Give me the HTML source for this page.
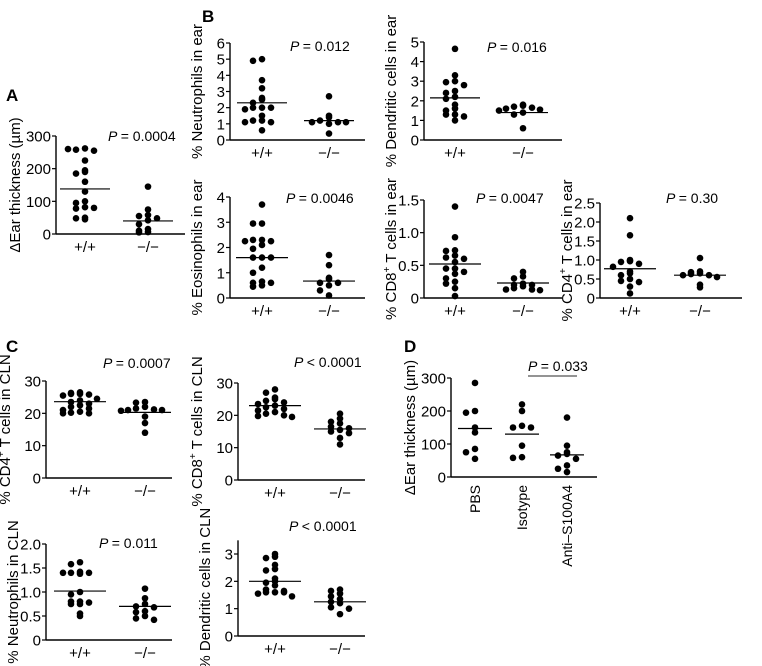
<!DOCTYPE html>
<html><head><meta charset="utf-8">
<style>
html,body{margin:0;padding:0;background:#fff;}
svg{display:block;font-family:"Liberation Sans","DejaVu Sans",sans-serif;}
</style></head>
<body>
<svg id="fig" width="762" height="666" viewBox="0 0 762 666" xmlns="http://www.w3.org/2000/svg">
<text x="6" y="101" font-size="17" font-weight="bold">A</text>
<text x="202" y="22" font-size="17" font-weight="bold">B</text>
<text x="6" y="352" font-size="17" font-weight="bold">C</text>
<text x="404" y="352" font-size="17" font-weight="bold">D</text>
</svg>
<script>
// ---- data ----
const genoCats = ["+/+", "−/−"];
const dCats = ["PBS", "Isotype", "Anti–S100A4"];

const earThickWT = [262,258,255,260,225,195,190,185,160,130,100,95,82,78,80,50,45,48];
const earThickKO = [145,75,58,55,48,42,30,15,6,5,10];
const earThickMed = [138,40];

const neutEarWT = [5.0,4.9,3.7,3.2,2.6,2.5,2.3,2.0,2.0,2.0,1.9,1.5,1.2,1.2,1.1,1.1,0.6];
const neutEarKO = [2.7,1.5,1.4,1.2,1.1,1.1,1.1,1.0,0.4];
const neutEarMed = [2.3,1.2];

const dcEarWT = [4.65,3.3,3.0,2.95,2.8,2.5,2.4,2.2,2.1,1.8,1.6,1.5,1.3,1.3,1.2,1.0];
const dcEarKO = [1.8,1.75,1.7,1.65,1.6,1.55,1.5,1.4,1.3,0.6];
const dcEarMed = [2.15,1.4];

const eosEarWT = [3.7,2.95,2.95,2.3,2.3,2.25,2.25,2.1,1.95,1.6,1.6,1.6,1.2,1.0,0.65,0.6,0.6,0.5,0.45];
const eosEarKO = [1.7,1.3,0.8,0.75,0.6,0.6,0.5,0.3,0.1];
const eosEarMed = [1.6,0.67];

const cd8EarWT = [1.4,0.93,0.73,0.72,0.65,0.62,0.6,0.55,0.45,0.45,0.4,0.37,0.3,0.25,0.22,0.15,0.03];
const cd8EarKO = [0.4,0.33,0.3,0.22,0.2,0.2,0.18,0.15,0.13,0.13,0.12];
const cd8EarMed = [0.52,0.23];

const cd4EarWT = [2.1,1.65,1.0,0.97,0.95,0.9,0.82,0.7,0.65,0.6,0.5,0.45,0.42,0.3,0.12];
const cd4EarKO = [1.05,0.7,0.68,0.65,0.63,0.6,0.6,0.55,0.35,0.28];
const cd4EarMed = [0.77,0.6];

const cd4ClnWT = [26.5,26.3,26,26,25.8,25.5,24.5,24,23.5,23,22.5,22,21.5,21,20.5,20.2,20,20];
const cd4ClnKO = [23.5,23.3,22,21.5,21.2,21,21,20.8,19,17,14];
const cd4ClnMed = [23.6,20.3];

const cd8ClnWT = [28,27,25.5,25,24.5,24,23.5,23,22.5,22,21.5,21,20.5,20,19.8,19.5];
const cd8ClnKO = [20.5,19,18,17.5,16.5,16,15.5,15,14.5,13,11];
const cd8ClnMed = [23,15.8];

const neutClnWT = [1.62,1.58,1.42,1.4,1.4,1.4,1.38,1.0,0.95,0.8,0.8,0.78,0.75,0.75,0.55,0.5];
const neutClnKO = [1.07,0.87,0.75,0.7,0.68,0.6,0.58,0.5,0.45,0.42];
const neutClnMed = [1.02,0.7];

const dcClnWT = [3.0,2.9,2.85,2.6,2.45,2.4,2.1,2.0,1.95,1.85,1.7,1.65,1.6,1.6,1.6,1.55,1.45];
const dcClnKO = [1.7,1.65,1.55,1.45,1.35,1.25,1.2,1.05,1.0,0.8];
const dcClnMed = [2.0,1.25];

const dPBS = [285,200,195,150,135,85,75,55];
const dIso = [220,200,155,150,150,95,60,58];
const dAnti = [180,95,75,70,65,55,35,25,15];
const dMed = [147,130,67];

const ticks300 = [0,100,200,300];
const ticks6 = [0,1,2,3,4,5,6];
const ticks5 = [0,1,2,3,4,5];
const ticks4 = [0,1,2,3,4];
const ticks15 = [0,0.5,1.0,1.5];
const ticks25 = [0,0.5,1.0,1.5,2.0,2.5];
const ticks30 = [0,10,20,30];
const ticks2 = [0,0.5,1.0,1.5,2.0];
const ticks3 = [0,1,2,3];

// ---- layout ----
const panels = [
 {id:"ear-thickness",ax:56,yt:136,yb:234,xe:185,max:300,top:300,ticks:ticks300,fmt:v=>String(v),cats:genoCats,cx:[85,148],groups:[earThickWT,earThickKO],med:earThickMed,title:"ΔEar thickness (µm)",p:"= 0.0004",px:108,py:141,hw:25},
 {id:"neutrophils-ear",ax:230,yt:43,yb:140,xe:365,max:6,top:6,ticks:ticks6,fmt:v=>String(v),cats:genoCats,cx:[262,329],groups:[neutEarWT,neutEarKO],med:neutEarMed,title:"% Neutrophils in ear",p:"= 0.012",px:290,py:51,hw:25},
 {id:"dendritic-ear",ax:424,yt:42,yb:140,xe:562,max:5,top:5,ticks:ticks5,fmt:v=>String(v),cats:genoCats,cx:[455,523],groups:[dcEarWT,dcEarKO],med:dcEarMed,title:"% Dendritic cells in ear",p:"= 0.016",px:487,py:52,hw:25},
 {id:"eosinophils-ear",ax:230,yt:197,yb:298,xe:365,max:4,top:4,ticks:ticks4,fmt:v=>String(v),cats:genoCats,cx:[262,329],groups:[eosEarWT,eosEarKO],med:eosEarMed,title:"% Eosinophils in ear",p:"= 0.0046",px:286,py:203,hw:26},
 {id:"cd8-ear",ax:424,yt:200,yb:298,xe:562,max:1.5,top:1.5,ticks:ticks15,fmt:v=>v===0?"0":v.toFixed(1),cats:genoCats,cx:[455,523],groups:[cd8EarWT,cd8EarKO],med:cd8EarMed,title:"% CD8+ T cells in ear",sup:"8",p:"= 0.0047",px:476,py:203,hw:26},
 {id:"cd4-ear",ax:600,yt:203,yb:298,xe:742,max:2.5,top:2.5,ticks:ticks25,fmt:v=>v===0?"0":v.toFixed(1),cats:genoCats,cx:[630,700],groups:[cd4EarWT,cd4EarKO],med:cd4EarMed,title:"% CD4+ T cells in ear",sup:"4",p:"= 0.30",px:666,py:203,hw:26},
 {id:"cd4-cln",ax:46,yt:381,yb:478,xe:172,max:30,top:30,ticks:ticks30,fmt:v=>String(v),cats:genoCats,cx:[80,145],groups:[cd4ClnWT,cd4ClnKO],med:cd4ClnMed,title:"% CD4+ T cells in CLN",sup:"4",p:"= 0.0007",px:103,py:368,hw:26},
 {id:"cd8-cln",ax:238,yt:383,yb:480,xe:365,max:30,top:30,ticks:ticks30,fmt:v=>String(v),cats:genoCats,cx:[275,340],groups:[cd8ClnWT,cd8ClnKO],med:cd8ClnMed,title:"% CD8+ T cells in CLN",sup:"8",p:"< 0.0001",px:294,py:367,hw:26},
 {id:"neutrophils-cln",ax:46,yt:544,yb:640,xe:172,max:2,top:2,ticks:ticks2,fmt:v=>v===0?"0":v.toFixed(1),cats:genoCats,cx:[80,145],groups:[neutClnWT,neutClnKO],med:neutClnMed,title:"% Neutrophils in CLN",p:"= 0.011",px:99,py:548,hw:26},
 {id:"dendritic-cln",ax:238,yt:554,yb:636,xe:365,max:3,top:3.5,ticks:ticks3,fmt:v=>String(v),cats:genoCats,cx:[275,340],groups:[dcClnWT,dcClnKO],med:dcClnMed,title:"% Dendritic cells in CLN",p:"< 0.0001",px:289,py:531,hw:26},
 {id:"d-ear-thickness",ax:451,yt:378,yb:477,xe:597,max:300,top:300,ticks:ticks300,fmt:v=>String(v),cats:dCats,cx:[475,522,567],groups:[dPBS,dIso,dAnti],med:dMed,title:"ΔEar thickness (µm)",p:"= 0.033",px:528,py:371,hw:17,rot:true,bar:[528,577,376]}
];

const NS="http://www.w3.org/2000/svg";
const svg=document.getElementById('fig');
function mk(tag,attrs,parent){const e=document.createElementNS(NS,tag);for(const k in attrs)e.setAttribute(k,attrs[k]);(parent||svg).appendChild(e);return e;}
const jit=[0,-9,9,-17,17,-24,24];

panels.forEach(P=>{
  const g=mk('g',{});
  
  
  const y=v=>P.yb-(v/P.max)*(P.yb-P.yt);
  const yTop=y(P.top);
  const yax=mk('line',{x1:P.ax,y1:yTop,x2:P.ax,y2:P.yb,stroke:'#000','stroke-width':1.4},g);
  
  
  const xax=mk('line',{x1:P.ax,y1:P.yb,x2:P.xe,y2:P.yb,stroke:'#000','stroke-width':1.4},g);
  
  
  P.ticks.forEach(t=>{
    mk('line',{x1:P.ax-4,y1:y(t),x2:P.ax,y2:y(t),stroke:'#000','stroke-width':1.2},g);
    const tl=mk('text',{x:P.ax-5,y:y(t)+5.5,'font-size':15,'text-anchor':'end'},g);
    tl.textContent=P.fmt(t);
    
    
  });
  // title
  const tx=P.ax-(P.max>=10?36:28), ty=(yTop+P.yb)/2;
  const tt=mk('text',{x:tx,y:ty,'font-size':15,'text-anchor':'middle',transform:`rotate(-90 ${tx} ${ty})`},g);
  
  
  if(P.sup){
    const parts=P.title.split(P.sup+'+');
    const s1=mk('tspan',{},tt);s1.textContent=parts[0]+P.sup;
    const s2=mk('tspan',{dy:-6,'font-size':10},tt);s2.textContent='+';
    const s3=mk('tspan',{dy:6},tt);s3.textContent=parts[1];
  } else tt.textContent=P.title;
  // categories
  P.cats.forEach((c,i)=>{
    let cl;
    if(P.rot){
      const lx=P.cx[i]+5, ly=P.yb+8;
      cl=mk('text',{x:lx,y:ly,'font-size':14,'text-anchor':'end',transform:`rotate(-90 ${lx} ${ly})`},g);
    } else cl=mk('text',{x:P.cx[i],y:P.yb+18,'font-size':15,'text-anchor':'middle'},g);
    cl.textContent=c;
    
    
  });
  // dots
  P.groups.forEach((arr,gi)=>{
    const used={};
    arr.forEach(v=>{
      const yy=y(v);const key=Math.round(yy/6);
      const n=used[key]||0;used[key]=n+1;
      const d=mk('circle',{cx:P.cx[gi]+jit[n%jit.length],cy:yy,r:3.3,fill:'#000'},g);
      
      
    });
    const m=mk('line',{x1:P.cx[gi]-P.hw,y1:y(P.med[gi]),x2:P.cx[gi]+P.hw,y2:y(P.med[gi]),stroke:'#000','stroke-width':1.2},g);
    
    
  });
  // p value
  const pt=mk('text',{x:P.px,y:P.py,'font-size':14},g);
  
  
  const pi=mk('tspan',{'font-style':'italic'},pt);pi.textContent='P ';
  const pr=mk('tspan',{},pt);pr.textContent=P.p;
  if(P.bar){
    const b=mk('line',{x1:P.bar[0],y1:P.bar[2],x2:P.bar[1],y2:P.bar[2],stroke:'#555','stroke-width':1.2},g);
    
    
  }
});
</script>
</body></html>
